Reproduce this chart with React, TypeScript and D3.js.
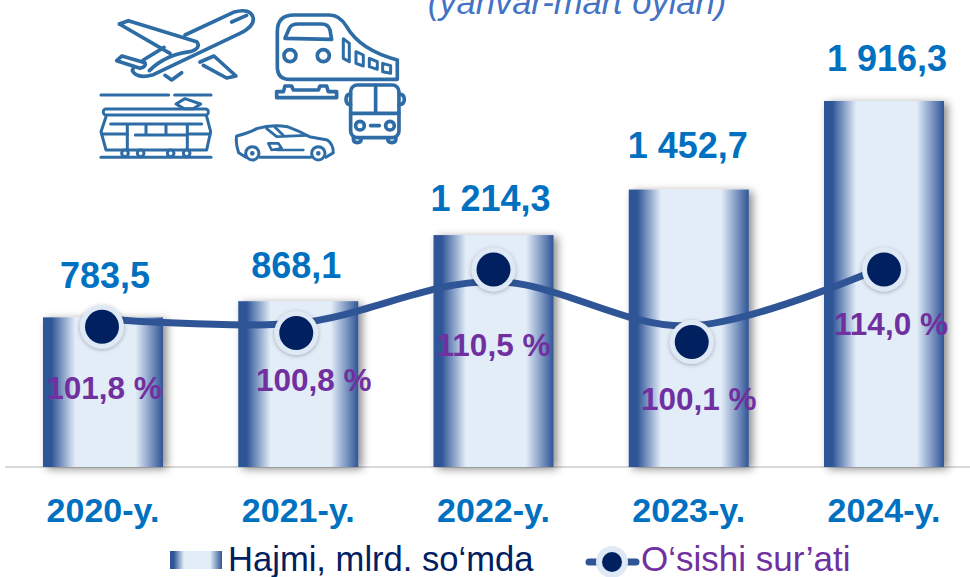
import React from "react";
import * as d3 from "d3";

// --- Data ---
const years = ["2020-y.", "2021-y.", "2022-y.", "2023-y.", "2024-y."];
const volume = [783.5, 868.1, 1214.3, 1452.7, 1916.3];
const volumeLabels = ["783,5", "868,1", "1 214,3", "1 452,7", "1 916,3"];
const growth = [101.8, 100.8, 110.5, 100.1, 114.0];
const growthLabels = ["101,8 %", "100,8 %", "110,5 %", "100,1 %", "114,0 %"];

const subtitle = "(yanvar-mart oylari)";
const legendBars = "Hajmi, mlrd. so‘mda";
const legendLine = "O‘sishi sur’ati";

// --- Hand placement, the source slide has its markers and labels moved by hand ---
const markerNudge = [[-1, 8], [-2, 10], [0, -12], [3, 16], [0, 3]];
const volumeNudge = [[2, -29], [-2, -23], [-3, -24], [-1, -32], [3, -30]];
const growthNudge = [[1, 72], [15.5, 58], [0, 87], [10, 68], [7, 65]];

const WIDTH = 970;
const HEIGHT = 577;
const BASE = 467;

const DARK = "#2F5597";
const NAVY = "#002060";
const RING = "#DEE9F5";
const BLUE = "#0070C0";
const PURPLE = "#7030A0";
const ICON = "#2E6CA6";
const FONT = "'Liberation Sans', Arial, sans-serif";

function Icons() {
    const p = { fill: "none", stroke: ICON, strokeWidth: 11, strokeLinejoin: "round" as const, strokeLinecap: "round" as const };
    return (
        <g transform="translate(90,0) scale(0.3333)" {...p}>
            {/* plane */}
            <path d="M160,180 L222,142 M285,105 L430,37 Q482,22 490,55 Q492,80 450,100 L190,224 Q140,238 127,212 L132,200" />
            <path d="M425,66 L470,46" />
            <path d="M88,72 L115,62 L320,125 Q335,145 300,155 Q225,165 178,212 M88,72 L240,160" />
            <path d="M80,182 L96,168 L165,188 Q170,200 150,205 Z" />
            <path d="M330,186 L372,168 L438,228 L410,234 L340,196" />
            <path d="M225,226 L245,240 L275,218" />
            {/* train */}
            <path d="M562,95 Q562,45 612,45 L718,45 Q750,45 770,80 Q810,150 922,180 L922,238 L600,238 Q562,238 562,200 Z" />
            <path d="M585,115 L598,85 Q604,72 625,72 L695,72 Q715,72 720,90 L725,118 Z" />
            <circle cx={600} cy={167} r={18} />
            <circle cx={700} cy={167} r={18} />
            <path d="M760,116 L778,130 L778,185 L760,175 Z" strokeWidth={9} />
            <path d="M798,155 L820,165 L820,198 L798,190 Z" strokeWidth={9} />
            <path d="M838,175 L862,185 L862,208 L838,200 Z" strokeWidth={9} />
            <path d="M878,190 L902,197 L902,220 L878,215 Z" strokeWidth={9} />
            <path d="M560,275 L580,275 L585,258 L605,258 L610,270 L685,270 L690,258 L710,258 L715,275 L740,275 L740,293 L560,293 Z" />
            {/* bus */}
            <rect x={782} y={255} width={145} height={158} rx={20} />
            <path d="M857,255 V340 M782,340 H927" />
            <circle cx={810} cy={377} r={13} />
            <circle cx={900} cy={377} r={13} />
            <path d="M842,377 H868" />
            <path d="M782,282 Q768,282 768,298 Q768,314 782,314 M927,282 Q943,282 943,298 Q943,314 927,314" />
            <path d="M790,415 Q790,428 802,428 Q814,428 814,415 M893,415 Q893,428 906,428 Q918,428 918,415" />
            {/* tram */}
            <g strokeWidth={9}>
                <path d="M33,285 H236 M254,285 H363" />
                <path d="M258,312 L285,296 L332,312 L310,326 L282,326 Z" />
                <rect x={40} y={327} width={315} height={18} rx={8} />
                <path d="M48,350 L33,395 L48,450 L350,450 L362,395 L350,350" />
                <path d="M62,372 H335 M112,372 V450 M168,372 V402 M228,372 V402 M292,372 V450" />
                <path d="M136,405 H290 M36,402 H112 M292,402 H360" />
                <path d="M33,472 H363" />
                <circle cx={105} cy={460} r={10} fill="#fff" />
                <circle cx={152} cy={460} r={10} fill="#fff" />
                <circle cx={242} cy={460} r={10} fill="#fff" />
                <circle cx={290} cy={460} r={10} fill="#fff" />
            </g>
            {/* car */}
            <path d="M468,472 L446,458 Q436,430 440,408 Q480,398 500,386 Q545,372 592,380 Q630,394 658,410 L712,420 Q730,432 730,458 L708,472 M510,472 H662" strokeWidth={9} />
            <path d="M530,386 L560,410 L650,406 M555,382 L580,406" strokeWidth={8} />
            <path d="M535,430 L565,430 L575,445 L545,450 Z M562,450 H640" strokeWidth={8} />
            <circle cx={487} cy={460} r={20} fill="#fff" strokeWidth={9} />
            <circle cx={487} cy={460} r={5} fill={ICON} strokeWidth={4} />
            <circle cx={685} cy={460} r={20} fill="#fff" strokeWidth={9} />
            <circle cx={685} cy={460} r={5} fill={ICON} strokeWidth={4} />
        </g>
    );
}

export default function App() {
    // --- Scales ---
    const x = d3.scaleBand().domain(years).range([43, 944]).paddingInner(0.3854).paddingOuter(0);
    const y = d3.scaleLinear().domain([0, d3.max(volume) as number]).range([BASE, 101]);
    const yGrowth = d3.scaleLinear().domain([100, 114]).range([326.4, 266.5]);
    const cx = (i: number) => (x(years[i]) as number) + x.bandwidth() / 2;

    const linePath = d3.line<number>()
        .x((_, i) => cx(i))
        .y(d => yGrowth(d))
        .curve(d3.curveCatmullRom.alpha(0.5))(growth) as string;

    return (
        <svg
            width={WIDTH}
            height={HEIGHT}
            viewBox={`0 0 ${WIDTH} ${HEIGHT}`}
            style={{ position: "absolute", left: 0, top: 0, background: "#fff", fontFamily: FONT }}
        >
            <defs>
                <linearGradient id="barFill" x1="0" x2="1" y1="0" y2="0">
                    <stop offset="0" stopColor={DARK} />
                    <stop offset="0.07" stopColor={DARK} />
                    <stop offset="0.27" stopColor="#E3EDF8" />
                    <stop offset="0.77" stopColor="#E3EDF8" />
                    <stop offset="1" stopColor={DARK} />
                </linearGradient>
                <filter id="barShadow" x="-20%" y="-10%" width="145%" height="120%">
                    <feDropShadow dx={4} dy={2} stdDeviation={4} floodColor="#000" floodOpacity={0.45} />
                </filter>
                <filter id="dotShadow" x="-30%" y="-30%" width="160%" height="160%">
                    <feDropShadow dx={0} dy={1} stdDeviation={2} floodColor="#000" floodOpacity={0.3} />
                </filter>
            </defs>

            <text x={577} y={14} textAnchor="middle" fontSize={34.5} fontStyle="italic" fill="#4472C4">{subtitle}</text>

            <Icons />

            <line x1={5} x2={WIDTH} y1={BASE} y2={BASE} stroke="#D9D9D9" strokeWidth={2} />

            {/* bars */}
            {years.map((d, i) => (
                <rect
                    key={d}
                    x={x(d)}
                    y={y(volume[i])}
                    width={x.bandwidth()}
                    height={BASE - y(volume[i])}
                    fill="url(#barFill)"
                    filter="url(#barShadow)"
                />
            ))}

            {/* growth line */}
            <path d={linePath} fill="none" stroke={DARK} strokeWidth={7} strokeLinecap="round" />

            {/* markers */}
            {growth.map((d, i) => (
                <g key={years[i]} transform={`translate(${cx(i) + markerNudge[i][0]},${yGrowth(d) + markerNudge[i][1]})`}>
                    <circle r={22} fill={RING} filter="url(#dotShadow)" />
                    <circle r={17} fill={NAVY} />
                </g>
            ))}

            {/* value labels */}
            {volume.map((d, i) => (
                <text
                    key={years[i]}
                    x={cx(i) + volumeNudge[i][0]}
                    y={y(d) + volumeNudge[i][1]}
                    textAnchor="middle"
                    fontSize={36}
                    fontWeight="bold"
                    fill={BLUE}
                >
                    {volumeLabels[i]}
                </text>
            ))}

            {/* growth labels */}
            {growth.map((d, i) => (
                <text
                    key={years[i]}
                    x={cx(i) + growthNudge[i][0]}
                    y={yGrowth(d) + markerNudge[i][1] + growthNudge[i][1]}
                    textAnchor="middle"
                    fontSize={31.5}
                    fontWeight="bold"
                    fill={PURPLE}
                >
                    {growthLabels[i]}
                </text>
            ))}

            {/* x axis labels */}
            {years.map(d => (
                <text key={d} x={(x(d) as number) + x.bandwidth() / 2} y={522} textAnchor="middle" fontSize={34} fontWeight="bold" fill={BLUE}>
                    {d}
                </text>
            ))}

            {/* legend */}
            <rect x={170} y={551} width={52} height={18} fill="url(#barFill)" />
            <text x={228} y={571} fontSize={34.6} fill={NAVY}>{legendBars}</text>
            <line x1={589} x2={636} y1={562} y2={562} stroke={DARK} strokeWidth={7} strokeLinecap="round" />
            <circle cx={612} cy={562} r={16} fill={RING} />
            <circle cx={612} cy={562} r={10} fill={NAVY} />
            <text x={641} y={571} fontSize={35} fill={PURPLE}>{legendLine}</text>
        </svg>
    );
}
